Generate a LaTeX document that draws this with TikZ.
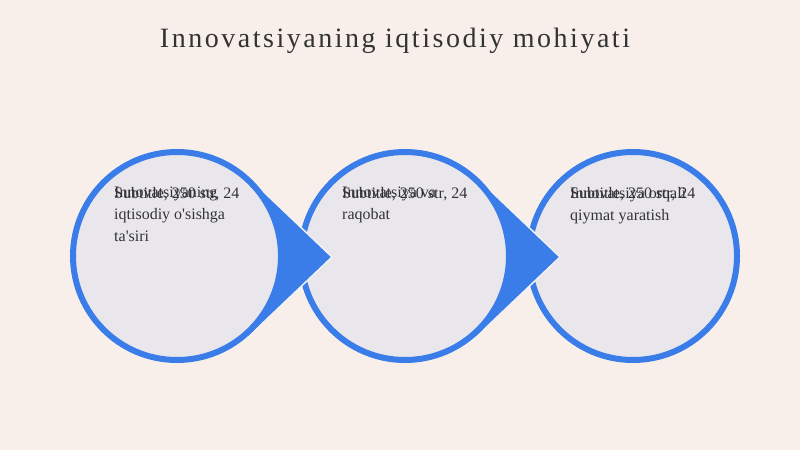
\documentclass[tikz,border=0pt]{standalone}
\usepackage{fontspec}
\setmainfont{Liberation Serif}
\newfontfamily\titlefont[LetterSpace=9]{Liberation Serif}
\usetikzlibrary{calc}
\definecolor{bgcol}{HTML}{F8EFEA}
\definecolor{discfill}{HTML}{E9E7EC}
\definecolor{discblue}{HTML}{3A7DE9}
\definecolor{inkgray}{HTML}{333333}
\def\discsep{228}
\begin{document}
\begin{tikzpicture}[
    x=1pt, y=-1pt,
    disc/.style={circle, draw=discblue, fill=discfill, line width=6pt, minimum size=208pt, inner sep=0},
    pointer/.style={fill=discblue, draw=discfill!60!white, line width=1.5pt, line join=round},
    caption/.style={anchor=north west, inner sep=0, align=left, text=inkgray,
      font=\fontsize{16}{22}\selectfont}
  ]
  % Background
  \fill[bgcol] (0,0) rectangle (800,450);
  \useasboundingbox (0,0) rectangle (800,450);

  % Title
  \node[text=inkgray, font=\titlefont\fontsize{28}{32}\selectfont, anchor=base] (title) at (395,47)
    {Innovatsiyaning iqtisodiy mohiyati};

  % Discs, drawn right to left so every pointer hides under its own disc
  \foreach \i/\lines in {3/{Innovatsiya orqali\\qiymat yaratish},
                         2/{Innovatsiya va\\raqobat},
                         1/{Innovatsiyaning\\iqtisodiy o\textquotesingle sishga\\ta\textquotesingle siri}}{
    \coordinate (m\i) at ({177+(\i-1)*\discsep},256);
    \ifnum\i<3
      \path[pointer] ($(m\i)+(70,-80)$) -- ($(m\i)+(155,1)$) -- ($(m\i)+(70,82)$) -- cycle;
    \fi
    \node[disc] (d\i) at (m\i) {};
    % Both texts sit on the same spot
    \node[caption] (s\i) at ($(m\i)+(-63,-69)$) {Subtitle, 250 str, 24};
    \node[caption] (t\i) at ($(m\i)+(-63,-69)$) {\lines};
  }
\end{tikzpicture}
\end{document}
